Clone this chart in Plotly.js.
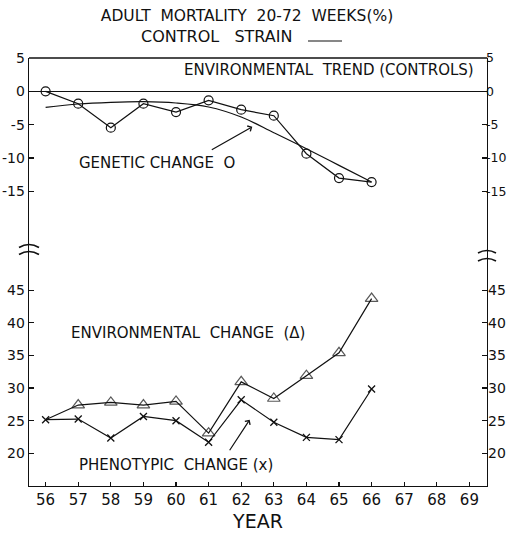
<!DOCTYPE html>
<html><head><meta charset="utf-8">
<script src="https://cdn.plot.ly/plotly-3.0.1.min.js"></script>
<style>html,body{margin:0;padding:0;background:#fff;} #chart{width:509px;height:533px;}</style>
</head><body><div id="chart"></div>
<script>
// ---- data ----
const years = [56, 57, 58, 59, 60, 61, 62, 63, 64, 65, 66];
const geneticChange = [0.0, -1.85, -5.45, -1.85, -3.1, -1.35, -2.75, -3.65, -9.35, -13.0, -13.6];
const geneticTrend = [-2.4, -1.9, -1.65, -1.55, -1.75, -2.35, -3.85, -6.2, -8.6, -11.1, -13.6];
const environmentalChange = [25.15, 27.4, 27.8, 27.4, 27.95, 23.1, 30.95, 28.4, 31.9, 35.4, 43.7];
const phenotypicChange = [25.15, 25.25, 22.35, 25.65, 25.0, 21.7, 28.2, 24.75, 22.45, 22.1, 29.85];
const xTickVals = [56, 57, 58, 59, 60, 61, 62, 63, 64, 65, 66, 67, 68, 69];
const topTickVals = [5, 0, -5, -10, -15];
const topTickText = ['5', '0', '-5', '-10', '-15'];
const bottomTickVals = [20, 25, 30, 35, 40, 45];
const bottomTickText = ['20', '25', '30', '35', '40', '45'];

// ---- geometry helpers ----
const W = 509, H = 533, ML = 29, MR = 22, MT = 58, MB = 47;
const PW = W - ML - MR, PH = H - MT - MB;
const px = x => (x - ML) / PW;
const py = y => (H - MB - y) / PH;
const breakFrac = py(250);
const FONT = 'DejaVu Sans, sans-serif';
const BLK = '#111';

const lineStyle = {color: BLK, width: 1.2};
const envMarkerSizes = environmentalChange.map((v, i) => i === 0 ? 0 : 11);

const traces = [
  {x: years, y: geneticChange, yaxis: 'y', mode: 'lines+markers', line: lineStyle,
   marker: {symbol: 'circle-open', size: 9, color: BLK, line: {width: 1.2, color: BLK}}, hoverinfo: 'skip'},
  {x: years, y: geneticTrend, yaxis: 'y', mode: 'lines', line: {color: BLK, width: 1.2, shape: 'spline', smoothing: 1}, hoverinfo: 'skip'},
  {x: years, y: environmentalChange, yaxis: 'y2', mode: 'lines+markers', line: lineStyle,
   marker: {symbol: 'triangle-up-open', size: envMarkerSizes, color: BLK, line: {width: 1.2, color: BLK}}, hoverinfo: 'skip'},
  {x: years, y: phenotypicChange, yaxis: 'y2', mode: 'lines+markers', line: lineStyle,
   marker: {symbol: 'x-thin-open', size: 7, color: BLK, line: {width: 1.3, color: BLK}}, hoverinfo: 'skip'},
  {x: [null], y: [null], yaxis: 'y3', mode: 'markers', showlegend: false, hoverinfo: 'skip'},
  {x: [null], y: [null], yaxis: 'y4', mode: 'markers', showlegend: false, hoverinfo: 'skip'}
];

const tickFont = {family: FONT, size: 14, color: BLK};
const xTickFont = {family: FONT, size: 15, color: BLK};
const topRange = [5 - (250 - MT) / 6.67, 5];
const botRange = [15, 15 + (H - MB - 250) / 6.53];

const yCommon = {showgrid: false, ticks: 'inside', ticklen: 5, tickwidth: 1.2, tickcolor: BLK, tickfont: tickFont, fixedrange: true};

const chevron = (cx, cy, half, h) => {
  const x0 = px(cx - half), x1 = px(cx + half), xm = px(cx);
  const y0 = py(cy + h), yc = py(cy - h);
  return {type: 'path', xref: 'paper', yref: 'paper',
    path: `M ${x0} ${y0} Q ${xm} ${yc} ${x1} ${y0}`, line: {color: BLK, width: 1.6}};
};

const layout = {
  width: W, height: H,
  margin: {l: ML, r: MR, t: MT, b: MB},
  paper_bgcolor: '#fff', plot_bgcolor: '#fff',
  showlegend: false,
  font: {family: FONT, color: BLK},
  title: {text: 'ADULT  MORTALITY  20-72  WEEKS(%)', font: {family: FONT, size: 15.5, color: BLK},
          xref: 'container', yref: 'container', x: 247 / W, y: 1 - 15.5 / H, xanchor: 'center', yanchor: 'middle'},
  xaxis: {range: [55.49, 69.54], anchor: 'y2', tickvals: xTickVals, ticktext: xTickVals.map(String),
          ticks: 'inside', ticklen: 4, tickwidth: 1.2, tickcolor: BLK, showline: true, linecolor: BLK, linewidth: 1.4,
          showgrid: false, zeroline: false, tickfont: xTickFont, fixedrange: true,
          title: {text: 'YEAR', font: {family: FONT, size: 19, color: BLK}, standoff: 6}},
  yaxis: Object.assign({}, yCommon, {domain: [breakFrac, 1], range: topRange, tickvals: topTickVals, ticktext: topTickText,
          showline: true, mirror: true, linecolor: BLK, linewidth: 1.4,
          zeroline: true, zerolinecolor: BLK, zerolinewidth: 1.2, ticklabelstandoff: 0}),
  yaxis2: Object.assign({}, yCommon, {domain: [0, breakFrac], range: botRange, tickvals: bottomTickVals, ticktext: bottomTickText,
          showline: true, mirror: true, linecolor: BLK, linewidth: 1.4, zeroline: false, ticklabelstandoff: 0}),
  yaxis3: Object.assign({}, yCommon, {overlaying: 'y', side: 'right', range: topRange, tickvals: topTickVals, ticktext: topTickText,
          tickfont: {family: FONT, size: 12.5, color: BLK},
          showline: false, zeroline: false, ticklabelstandoff: -2}),
  yaxis4: Object.assign({}, yCommon, {overlaying: 'y2', side: 'right', range: botRange, tickvals: bottomTickVals, ticktext: bottomTickText,
          showline: false, zeroline: false, ticklabelstandoff: 0}),
  shapes: [
    {type: 'line', xref: 'paper', yref: 'paper', x0: 0, x1: 1, y0: 1, y1: 1, line: {color: BLK, width: 1.4}},
    {type: 'line', xref: 'paper', yref: 'paper', x0: px(308), x1: px(342), y0: py(41), y1: py(41), line: {color: BLK, width: 1.2}},
    chevron(29, 244.5, 10, 3),
    chevron(29, 251.5, 10, 3),
    chevron(487, 250.5, 9, 2.5),
    chevron(487, 258.5, 9, 2.5)
  ],
  annotations: [
    {text: 'CONTROL   STRAIN', xref: 'paper', yref: 'paper', x: px(216), y: py(37), showarrow: false,
     font: {family: FONT, size: 16, color: BLK}, xanchor: 'center', yanchor: 'middle'},
    {text: 'ENVIRONMENTAL  TREND (CONTROLS)', xref: 'paper', yref: 'paper', x: px(476), y: py(70), showarrow: false,
     font: {family: FONT, size: 15, color: BLK}, xanchor: 'right', yanchor: 'middle'},
    {text: 'GENETIC CHANGE  O', xref: 'paper', yref: 'paper', x: px(77), y: py(162.5), showarrow: false,
     font: {family: FONT, size: 15, color: BLK}, xanchor: 'left', yanchor: 'middle'},
    {text: 'ENVIRONMENTAL  CHANGE  (Δ)', xref: 'paper', yref: 'paper', x: px(69), y: py(333), showarrow: false,
     font: {family: FONT, size: 15, color: BLK}, xanchor: 'left', yanchor: 'middle'},
    {text: 'PHENOTYPIC  CHANGE (x)', xref: 'paper', yref: 'paper', x: px(77), y: py(465), showarrow: false,
     font: {family: FONT, size: 15, color: BLK}, xanchor: 'left', yanchor: 'middle'},
    {text: '', xref: 'x', yref: 'y', x: 62.34, y: -5.3, ax: -42, ay: 24, axref: 'pixel', ayref: 'pixel',
     showarrow: true, arrowhead: 4, arrowsize: 1, arrowwidth: 1.2, arrowcolor: BLK},
    {text: '', xref: 'x', yref: 'y2', x: 62.26, y: 25.15, ax: -21, ay: 32, axref: 'pixel', ayref: 'pixel',
     showarrow: true, arrowhead: 4, arrowsize: 1, arrowwidth: 1.2, arrowcolor: BLK}
  ]
};

Plotly.newPlot('chart', traces, layout, {displayModeBar: false, staticPlot: true});
</script>
</body></html>
